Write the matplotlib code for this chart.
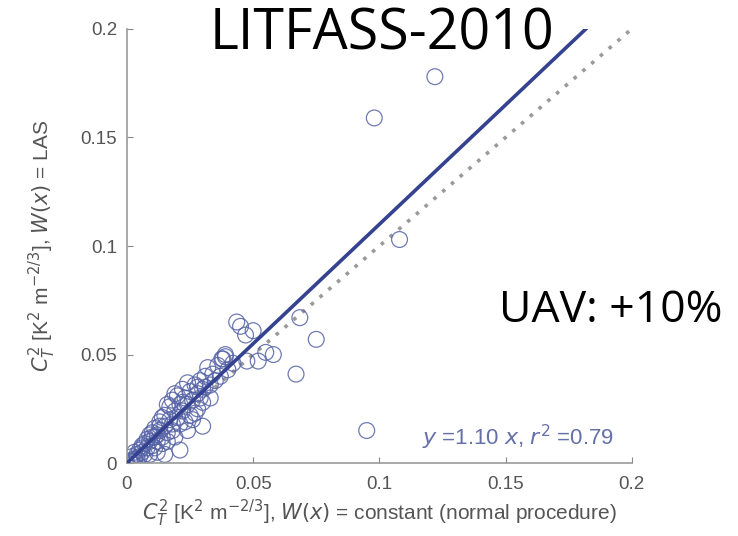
import numpy as np
import matplotlib.pyplot as plt

# C_T^2 from constant path weighting (x) vs LAS path weighting (y)
ct2_const = [
    0.000, 0.001, 0.002, 0.003, 0.002, 0.004, 0.005, 0.004, 0.006, 0.007,
    0.008, 0.006, 0.009, 0.010, 0.008, 0.011, 0.012, 0.010, 0.013, 0.012,
    0.014, 0.015, 0.013, 0.016, 0.017, 0.015, 0.018, 0.019, 0.017, 0.020,
    0.021, 0.016, 0.022, 0.023, 0.020, 0.024, 0.025, 0.022, 0.026, 0.027,
    0.028, 0.024, 0.029, 0.030, 0.031, 0.033, 0.034, 0.032, 0.035, 0.036,
    0.038, 0.039, 0.040, 0.042, 0.037, 0.028, 0.025, 0.021, 0.018, 0.014,
    0.011, 0.030, 0.033, 0.026, 0.019, 0.023, 0.027, 0.016, 0.012, 0.009,
    0.021, 0.030, 0.024, 0.015, 0.005, 0.003, 0.007, 0.009, 0.011, 0.014,
    0.018, 0.019, 0.022, 0.028, 0.029, 0.031, 0.003, 0.006, 0.010, 0.013,
    0.0435, 0.045, 0.050, 0.047, 0.0376, 0.039, 0.058, 0.055, 0.052, 0.0475,
    0.0685, 0.075, 0.067, 0.095, 0.098, 0.122, 0.108,
]
ct2_las = [
    0.000, 0.001, 0.003, 0.002, 0.001, 0.004, 0.006, 0.002, 0.005, 0.009,
    0.007, 0.008, 0.010, 0.008, 0.011, 0.012, 0.010, 0.014, 0.015, 0.013,
    0.012, 0.017, 0.019, 0.014, 0.020, 0.022, 0.018, 0.024, 0.026, 0.021,
    0.027, 0.027, 0.024, 0.030, 0.031, 0.027, 0.033, 0.034, 0.029, 0.036,
    0.032, 0.037, 0.038, 0.034, 0.040, 0.036, 0.041, 0.044, 0.038, 0.045,
    0.048, 0.049, 0.043, 0.046, 0.040, 0.025, 0.022, 0.018, 0.015, 0.009,
    0.007, 0.028, 0.030, 0.020, 0.012, 0.019, 0.023, 0.010, 0.005, 0.004,
    0.006, 0.017, 0.015, 0.004, 0.003, 0.005, 0.004, 0.013, 0.016, 0.021,
    0.029, 0.032, 0.028, 0.035, 0.030, 0.035, 0.001, 0.007, 0.012, 0.017,
    0.065, 0.063, 0.061, 0.059, 0.048, 0.050, 0.050, 0.051, 0.047, 0.047,
    0.067, 0.057, 0.041, 0.015, 0.159, 0.178, 0.103,
]
slope = 1.10
r2 = 0.79
ticks = [0, 0.05, 0.1, 0.15, 0.2]
tick_labels = ["0", "0.05", "0.1", "0.15", "0.2"]

plt.rcParams['font.family'] = ['Liberation Sans', 'DejaVu Sans']
fig = plt.figure(figsize=(7.38, 5.36), dpi=100)
ax = fig.add_axes([0.172, 0.136, 0.684, 0.81])

ax.scatter(ct2_const, ct2_las, s=130, facecolors='none',
           edgecolors='#5663a6', linewidths=0.9, alpha=0.85, zorder=2)

# regression line through origin and 1:1 reference
xfit = np.array([0, 0.2 / slope])
ax.plot(xfit, slope * xfit, color='#34428f', lw=2.6, zorder=3)
ax.plot([0, 0.2], [0, 0.2], color='#9a9a9a', lw=2.6, ls=(0, (1, 2.2)), zorder=1)

ax.text(0.155, 0.012, f"$y$ ={slope:.2f} $x$, $r^2$ ={r2:.2f}", color='#6670a8',
        fontsize=16, ha='center', va='center')

ax.set_xlim(0, 0.2)
ax.set_ylim(0, 0.2)
ax.set_xticks(ticks)
ax.set_xticklabels(tick_labels)
ax.set_yticks(ticks)
ax.set_yticklabels(tick_labels)
ax.tick_params(direction='in', length=4, color='#888888', labelcolor='#555555',
               labelsize=13.5)
ax.tick_params(axis='x', pad=9)
ax.tick_params(axis='y', pad=7)
for side in ['top', 'right']:
    ax.spines[side].set_visible(False)
for side in ['left', 'bottom']:
    ax.spines[side].set_color('#999999')
    ax.spines[side].set_linewidth(1.2)

ax.set_xlabel(r"$C_T^2$ [K$^2$ m$^{-2/3}$], $W(x)$ = constant (normal procedure)",
              fontsize=15, color='#555555', labelpad=4)
ax.set_ylabel(r"$C_T^2$ [K$^2$ m$^{-2/3}$], $W(x)$ = LAS",
              fontsize=15, color='#555555', labelpad=16)

fig.text(0.517, 0.935, "LITFASS-2010", fontsize=40, family='Open Sans',
         ha='center', va='center', color='black')
fig.text(0.827, 0.42, "UAV: +10%", fontsize=32, family='Open Sans',
         ha='center', va='center', color='black')

fig.savefig("out.png", dpi=100)
